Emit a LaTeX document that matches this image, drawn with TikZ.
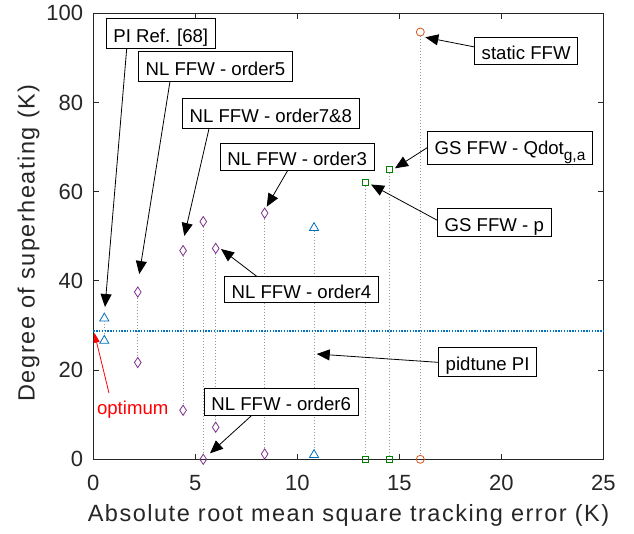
\documentclass[tikz,border=0pt]{standalone}
\usepackage{fontspec}
\setmainfont{Liberation Sans}
\usetikzlibrary{arrows.meta,calc,shapes.geometric}
\definecolor{mblue}{RGB}{0,114,189}
\definecolor{mpurple}{RGB}{126,47,142}
\definecolor{mgreen}{RGB}{0,128,0}
\definecolor{morange}{RGB}{217,83,25}
\definecolor{axcol}{RGB}{38,38,38}
\definecolor{vgray}{RGB}{150,150,150}
\tikzset{
  ann/.style={draw=black, line width=0.8pt, fill=white, inner xsep=7pt, inner ysep=0pt,
    text height=22pt, text depth=4pt, font=\fontsize{18.6}{20}\selectfont, anchor=west},
  arr/.style={line width=0.8pt, -{Triangle[length=13pt,width=11pt]}},
  redarr/.style={red, line width=0.8pt, -{Triangle[length=10pt,width=6pt]}},
  ticklab/.style={text=axcol, font=\fontsize{22}{24}\selectfont, inner sep=0pt},
  axlab/.style={text=axcol, font=\fontsize{23.5}{26}\selectfont\addfontfeatures{LetterSpace=6.5}, inner sep=0pt},
  tri/.style={regular polygon, regular polygon sides=3, draw=mblue, line width=0.8pt, minimum size=10.5pt, inner sep=0pt},
  dia/.style={diamond, draw=mpurple, line width=0.8pt, minimum width=7pt, minimum height=10.5pt, inner sep=0pt},
  sqm/.style={rectangle, draw=mgreen, line width=0.8pt, minimum size=6pt, inner sep=0pt},
  circm/.style={circle, draw=morange, line width=0.8pt, minimum size=8pt, inner sep=0pt},
  vdot/.style={vgray, line width=0.6pt, dash pattern=on 1pt off 2pt},
  hdot/.style={mblue, line width=1.8pt, dash pattern=on 1.4pt off 1.4pt},
}
\begin{document}
\begin{tikzpicture}[x=1pt,y=-1pt]
\useasboundingbox (0,0) rectangle (634,533);
% axes box
\draw[axcol, line width=0.9pt] (93.3,13.3) rectangle (603.3,459.3);
\begin{scope}[shift={(93.3,459.3)}, x=20.4pt, y=4.46pt]
  \foreach \v in {0,5,...,25} {
    \draw[axcol, line width=0.9pt] (\v,0) -- ++(0,5.5pt);
    \draw[axcol, line width=0.9pt] (\v,100) -- ++(0,-5.5pt);
    \node[ticklab, anchor=base] (xt\v) at ($(\v,0)+(0,-30.7pt)$) {\v};
  }
  \foreach \v in {0,20,...,100} {
    \draw[axcol, line width=0.9pt] (0,\v) -- ++(5.5pt,0);
    \draw[axcol, line width=0.9pt] (25,\v) -- ++(-5.5pt,0);
    \node[ticklab, anchor=east] (yt\v) at ($(0,\v)+(-10pt,0)$) {\v};
  }
  % blue horizontal dotted line
  \coordinate (hl) at (0,28.8);
  \coordinate (hr) at (25,28.8);
  \draw[hdot] (hl) -- (hr);
  % markers
  \node[tri] (p1a) at (0.54,31.6) {};
  \node[tri] (p1b) at (0.54,26.6) {};
  \node[tri] (p7a) at (10.82,51.9) {};
  \node[tri] (p7b) at (10.82,1.0) {};
  \node[dia] (p2a) at (2.18,37.5) {};
  \node[dia] (p2b) at (2.18,21.7) {};
  \node[dia] (p3a) at (4.40,46.8) {};
  \node[dia] (p3b) at (4.40,11.0) {};
  \node[dia] (p4a) at (5.39,53.3) {};
  \node[dia] (p4b) at (5.39,0) {};
  \node[dia] (p5a) at (6.0,47.3) {};
  \node[dia] (p5b) at (6.0,7.2) {};
  \node[dia] (p6a) at (8.40,55.2) {};
  \node[dia] (p6b) at (8.40,1.2) {};
  \node[sqm] (p8a) at (13.32,62.0) {};
  \node[sqm] (p8b) at (13.32,0) {};
  \node[sqm] (p9a) at (14.5,64.9) {};
  \node[sqm] (p9b) at (14.5,0) {};
  \node[circm] (p10a) at (16.03,95.8) {};
  \node[circm] (p10b) at (16.03,0) {};
  \foreach \i in {1,...,10} { \draw[vdot] (p\i a) -- (p\i b); }
\end{scope}
% axis labels
\node[axlab, anchor=base] (xlab) at (348.5,521.7) {Absolute root mean square tracking error (K)};
\node[axlab, anchor=base, rotate=90] (ylab) at (34.5,243) {Degree of superheating (K)};
% annotation boxes
\node[ann, minimum height=30pt] (b1) at (106,33.3) {PI Ref. [68]};
\node[ann, minimum height=29.3pt] (b2) at (138.3,66.3) {NL FFW - order5};
\node[ann, minimum height=30pt] (b3) at (182.3,113.3) {NL FFW - order7\&8};
\node[ann, minimum height=26.7pt] (b4) at (220,156.7) {NL FFW - order3};
\node[ann, minimum height=27pt] (b5) at (474.3,50.8) {static FFW};
\node[ann, minimum height=33pt, text height=17pt, text depth=5.4pt] (b6) at (427.3,148.2) {GS FFW - Qdot\raisebox{-6pt}{\fontsize{15.5}{16}\selectfont g,a}};
\node[ann, minimum height=28.4pt] (b7) at (437.3,222.5) {GS FFW - p};
\node[ann, minimum height=26pt] (b8) at (224.3,289.7) {NL FFW - order4};
\node[ann, minimum height=28.7pt] (b9) at (438.3,361.7) {pidtune PI};
\node[ann, minimum height=26.7pt] (b10) at (204,401.7) {NL FFW - order6};
% arrow tips
\coordinate (t1) at (105,307);
\coordinate (t2) at (139.3,274);
\coordinate (t3) at (184.3,236);
\coordinate (t4) at (266.7,206.7);
\coordinate (t5) at (425.3,37.3);
\coordinate (t6) at (395,168.3);
\coordinate (t7) at (371,184.5);
\coordinate (t8) at (221,249);
\coordinate (t9) at (316.7,354);
\coordinate (t10) at (210,453.3);
\draw[arr] ($(b1.south west)+(20.7,0)$) -- (t1);
\draw[arr] ($(b2.south west)+(31.7,0)$) -- (t2);
\draw[arr] ($(b3.south west)+(26.7,0)$) -- (t3);
\draw[arr] ($(b4.south west)+(67.7,0)$) -- (t4);
\draw[arr] ($(b5.north west)+(0,10)$) -- (t5);
\draw[arr] ($(b6.north west)+(0,16.3)$) -- (t6);
\draw[arr] ($(b7.north west)+(0,12.4)$) -- (t7);
\draw[arr] ($(b8.north west)+(32.4,0)$) -- (t8);
\draw[arr] ($(b9.north west)+(0,15.4)$) -- (t9);
\draw[arr] ($(b10.south west)+(47.7,0)$) -- (t10);
% optimum
\node[text=red, font=\fontsize{18.6}{20}\selectfont, inner sep=0pt, anchor=base] (opt) at (132.7,414.5) {optimum};
\coordinate (optStart) at (109,393);
\coordinate (optTip) at (94.3,332.7);
\draw[redarr] (optStart) -- (optTip);
\end{tikzpicture}
\end{document}
